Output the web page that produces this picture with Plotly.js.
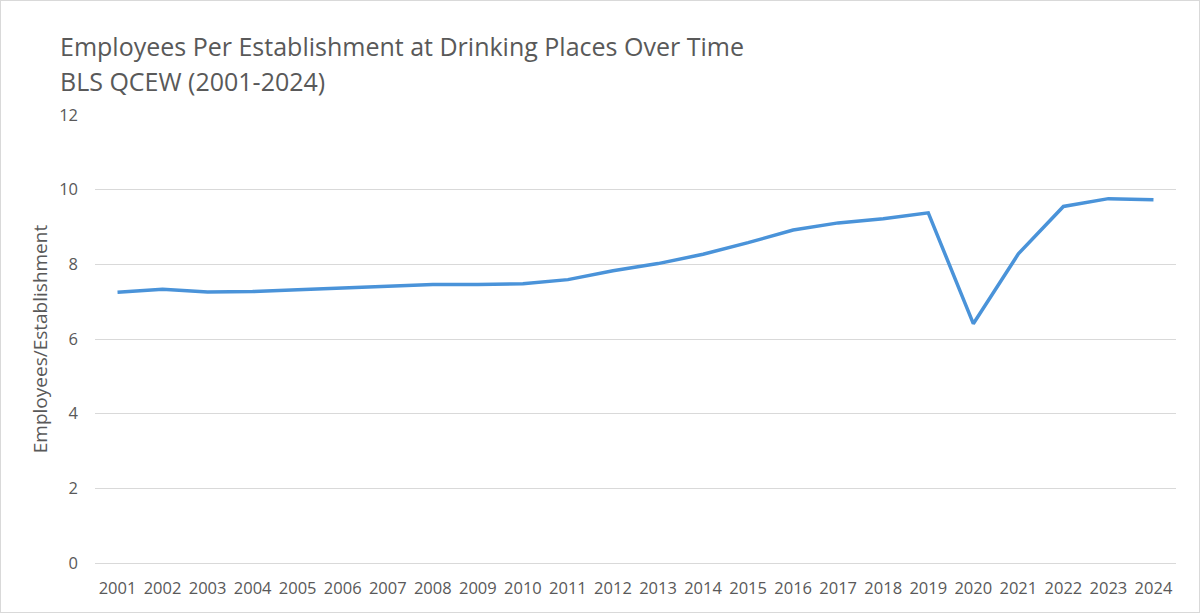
<!DOCTYPE html>
<html>
<head>
<meta charset="utf-8">
<script src="https://cdn.plot.ly/plotly-3.0.1.min.js"></script>
<style>
html,body{margin:0;padding:0;background:#fff;}
#wrap{width:1200px;height:613px;box-sizing:border-box;border:1px solid #d9d9d9;overflow:hidden;}
#chart{width:1198px;height:611px;}
</style>
</head>
<body>
<div id="wrap"><div id="chart"></div></div>
<script>
const years = ["2001","2002","2003","2004","2005","2006","2007","2008","2009","2010","2011","2012","2013","2014","2015","2016","2017","2018","2019","2020","2021","2022","2023","2024"];
const employeesPerEstablishment = [7.25,7.33,7.26,7.27,7.32,7.37,7.42,7.46,7.46,7.48,7.59,7.83,8.02,8.27,8.58,8.92,9.11,9.22,9.38,6.41,8.28,9.55,9.76,9.73];
const yTicks = [0,2,4,6,8,10,12];
const titleLines = ["Employees Per Establishment at Drinking Places Over Time", "BLS QCEW (2001-2024)"];

const font = "'Open Sans', 'Liberation Sans', sans-serif";
const grey = "#595959";

const W = 1198, H = 611;
const M = {l: 94, r: 23, t: 114, b: 49};
const plotW = W - M.l - M.r, plotH = H - M.t - M.b;
const px2x = p => (p - M.l) / plotW;
const py2y = p => (H - M.b - p) / plotH;

Plotly.newPlot("chart", [{
  x: years,
  y: employeesPerEstablishment,
  type: "scatter",
  mode: "lines",
  line: {color: "#4a93d9", width: 3.5},
  hoverinfo: "x+y"
}], {
  width: W,
  height: H,
  paper_bgcolor: "#ffffff",
  plot_bgcolor: "#ffffff",
  margin: M,
  showlegend: false,
  annotations: [
    {text: titleLines[0], xref: "paper", yref: "paper", x: px2x(57), y: py2y(45), xanchor: "left", yanchor: "middle",
     showarrow: false, font: {family: font, size: 25, color: grey}},
    {text: titleLines[1], xref: "paper", yref: "paper", x: px2x(57), y: py2y(80), xanchor: "left", yanchor: "middle",
     showarrow: false, font: {family: font, size: 25, color: grey}}
  ],
  xaxis: {
    type: "category",
    range: [-0.5, 23.5],
    tickfont: {family: font, size: 16.5, color: grey},
    showgrid: false,
    showline: true,
    linecolor: "#d9d9d9",
    linewidth: 1,
    ticks: "",
    ticklabelstandoff: 10,
    zeroline: false,
    fixedrange: true
  },
  yaxis: {
    range: [0, 12],
    tickvals: yTicks,
    ticktext: yTicks.map(String),
    tickfont: {family: font, size: 16.5, color: grey},
    showgrid: true,
    gridcolor: "#d9d9d9",
    gridwidth: 1,
    zeroline: false,
    showline: false,
    ticks: "",
    ticklabelstandoff: 16,
    title: {text: "Employees/Establishment", font: {family: font, size: 19, color: grey}, standoff: 6},
    fixedrange: true
  }
}, {displayModeBar: false, staticPlot: true});
</script>
</body>
</html>
